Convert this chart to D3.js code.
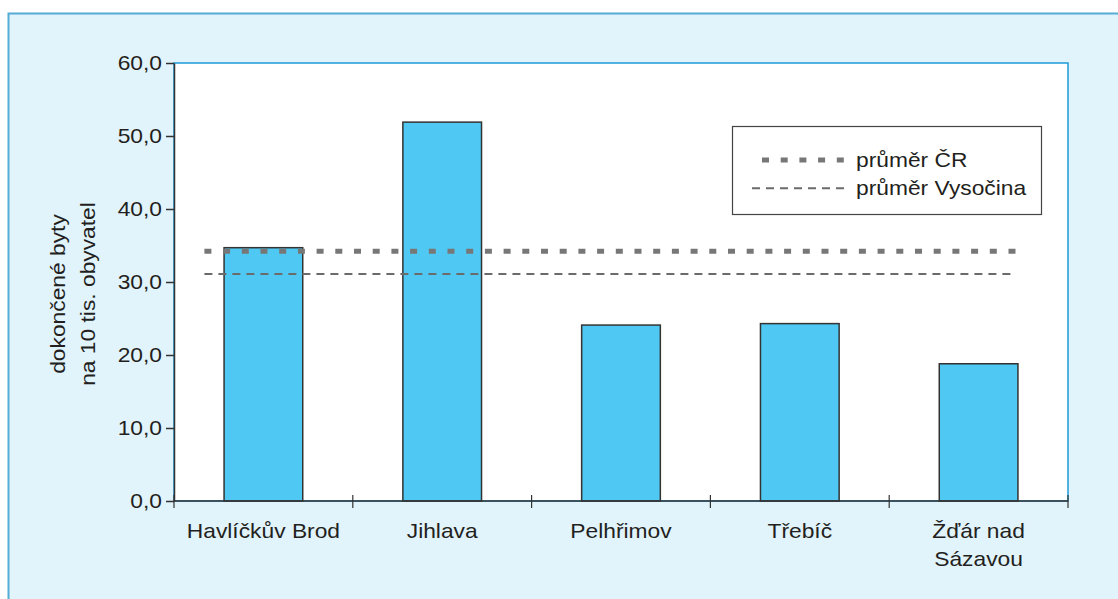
<!DOCTYPE html>
<html lang="cs">
<head>
<meta charset="UTF-8">
<title>dokončené byty</title>
<script src="https://d3js.org/d3.v7.min.js"></script>
<style>
    body {
        margin: 0;
        background: #ffffff;
        font-family: "Liberation Sans", Arial, Helvetica, sans-serif;
    }
    svg text {
        fill: #231f20;
        font-size: 20px;
    }
</style>
</head>
<body>
<script>
    // data
    const okresy = ['Havlíčkův Brod', 'Jihlava', 'Pelhřimov', 'Třebíč', 'Žďár nad Sázavou']
    const byty = [34.7, 51.9, 24.1, 24.3, 18.8]
    const prumerNazvy = ['průměr ČR', 'průměr Vysočina']
    const prumerHodnoty = [34.2, 31.1]
    const yTicks = [0, 10, 20, 30, 40, 50, 60]
    const yTitle = ['dokončené byty', 'na 10 tis. obyvatel']

    const width = 1118
    const height = 599
    const S = 1.14 // the original lettering is a bit wide
    const plot = {left: 174, top: 63, right: 1068, bottom: 501}

    const svg = d3.select('body').append('svg')
        .attr('width', width)
        .attr('height', height)

    // light blue panel
    svg.append('rect')
        .attr('x', 8.5).attr('y', 13.5)
        .attr('width', 1200).attr('height', 700)
        .attr('fill', '#e1f3fb')
        .attr('stroke', '#55acd6')
        .attr('stroke-width', 2)

    svg.append('rect')
        .attr('x', plot.left).attr('y', plot.top)
        .attr('width', plot.right - plot.left)
        .attr('height', plot.bottom - plot.top)
        .attr('fill', '#ffffff')
        .attr('stroke', '#1d9bd7')
        .attr('stroke-width', 1.5)

    const x = d3.scaleBand()
        .domain(okresy)
        .range([plot.left, plot.right])
        .padding(0)
    const bw = x.bandwidth()

    const y = d3.scaleLinear()
        .domain([0, 60])
        .range([plot.bottom, plot.top])

    const cz = d3.formatLocale({decimal: ',', thousands: ' ', grouping: [3], currency: ['', ' Kč']})
    const fmt = cz.format('.1f')

    // bars
    svg.append('g').selectAll('rect')
        .data(okresy)
        .enter()
        .append('rect')
        .attr('x', d => x(d) + bw * 0.28)
        .attr('width', bw * 0.44)
        .attr('y', (d, i) => y(byty[i]))
        .attr('height', (d, i) => y(0) - y(byty[i]))
        .attr('fill', '#4fc9f3')
        .attr('stroke', '#333333')
        .attr('stroke-width', 1.5)

    // average lines
    const lineStyle = [
        {w: 5, dash: '7,11.7', color: '#777777'},
        {w: 2, dash: '8,6', color: '#6b6b6b'}
    ]
    svg.append('g').selectAll('line')
        .data(prumerHodnoty)
        .enter()
        .append('line')
        .attr('x1', plot.left + bw * 0.17)
        .attr('x2', plot.right - bw * 0.29)
        .attr('y1', d => y(d))
        .attr('y2', d => y(d))
        .attr('stroke', (d, i) => lineStyle[i].color)
        .attr('stroke-width', (d, i) => lineStyle[i].w)
        .attr('stroke-dasharray', (d, i) => lineStyle[i].dash)

    // y axis
    const yAxis = svg.append('g')
        .attr('transform', 'translate(' + plot.left + ',0)')
        .call(d3.axisLeft(y).tickValues(yTicks).tickFormat(fmt).tickSize(8).tickSizeOuter(0).tickPadding(4))
    yAxis.select('.domain').attr('stroke', '#333333').attr('stroke-width', 1.5)
    yAxis.selectAll('.tick line').attr('stroke', '#333333').attr('stroke-width', 1.5)
    yAxis.selectAll('.tick text')
        .attr('font-size', null)
        .attr('font-family', null)
        .attr('fill', '#231f20')
        .attr('x', -12 / S)
        .attr('transform', 'scale(' + S + ',1)')

    // x axis: line, boundary ticks, labels
    const xAxis = svg.append('g')
    xAxis.append('line')
        .attr('x1', plot.left).attr('x2', plot.right)
        .attr('y1', y(0)).attr('y2', y(0))
        .attr('stroke', '#333333').attr('stroke-width', 1.5)
    const edges = okresy.map(d => x(d)).concat([x.range()[1]])
    xAxis.selectAll('.edge')
        .data(edges)
        .enter()
        .append('line')
        .attr('class', 'edge')
        .attr('x1', d => d).attr('x2', d => d)
        .attr('y1', y(0) - 6).attr('y2', y(0) + 7)
        .attr('stroke', '#333333').attr('stroke-width', 1.2)

    const lab = xAxis.selectAll('.lab')
        .data(okresy)
        .enter()
        .append('text')
        .attr('class', 'lab')
        .attr('text-anchor', 'middle')
        .attr('transform', d => 'translate(' + (x(d) + bw / 2) + ',' + 538 + ') scale(' + S + ',1)')
    lab.each(function (d) {
        const parts = d === 'Žďár nad Sázavou' ? ['Žďár nad', 'Sázavou'] : [d]
        d3.select(this).selectAll('tspan')
            .data(parts)
            .enter()
            .append('tspan')
            .attr('x', 0)
            .attr('y', (p, i) => i * 28.5)
            .text(p => p)
    })

    // y title
    svg.append('text')
        .attr('text-anchor', 'middle')
        .attr('transform', 'translate(65,294) rotate(-90) scale(' + S + ',1)')
        .selectAll('tspan')
        .data(yTitle)
        .enter()
        .append('tspan')
        .attr('x', 0)
        .attr('y', (d, i) => i * 30)
        .text(d => d)

    // legend
    const leg = svg.append('g')
    leg.append('rect')
        .attr('x', 732.5).attr('y', 126.5)
        .attr('width', 309).attr('height', 88)
        .attr('fill', '#ffffff')
        .attr('stroke', '#444444')
        .attr('stroke-width', 1.2)
    const legStart = [762, 752]
    const legRow = leg.selectAll('.row')
        .data(prumerNazvy)
        .enter()
        .append('g')
        .attr('class', 'row')
        .attr('transform', (d, i) => 'translate(0,' + (160 + i * 28.3) + ')')
    legRow.append('line')
        .attr('x1', (d, i) => legStart[i])
        .attr('x2', 844)
        .attr('stroke', (d, i) => lineStyle[i].color)
        .attr('stroke-width', (d, i) => lineStyle[i].w)
        .attr('stroke-dasharray', (d, i) => lineStyle[i].dash)
    legRow.append('text')
        .attr('transform', 'translate(856,7) scale(' + S + ',1)')
        .text(d => d)
</script>
</body>
</html>
